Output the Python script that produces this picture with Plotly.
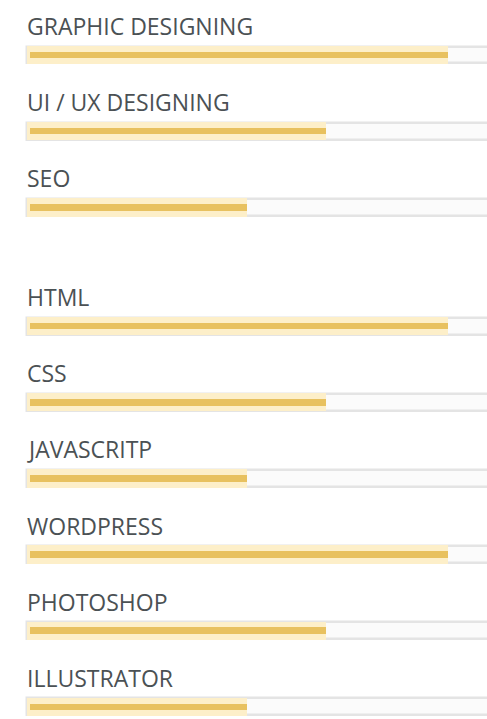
import plotly.graph_objects as go

skills = ["GRAPHIC DESIGNING", "UI / UX DESIGNING", "SEO",
          "HTML", "CSS", "JAVASCRITP",
          "WORDPRESS", "PHOTOSHOP", "ILLUSTRATOR"]
levels = [90, 64, 47, 90, 64, 47, 90, 64, 47]
groups = [0, 0, 0, 1, 1, 1, 1, 1, 1]
track_max = [100] * len(skills)

GROUP_GAP = 0.56
pos = [i + g * GROUP_GAP for i, g in enumerate(groups)]

fig = go.Figure()
# background track
fig.add_trace(go.Bar(
    x=track_max, y=pos, orientation="h", width=0.22,
    marker=dict(color="#fbfbfb", line=dict(color="#e4e4e4", width=2.5)),
    hoverinfo="skip", showlegend=False))
# pale halo of fill
fig.add_trace(go.Bar(
    x=levels, y=pos, orientation="h", width=0.24,
    marker=dict(color="#fdefc9", line=dict(width=0)),
    hoverinfo="skip", showlegend=False))
# core fill
fig.add_trace(go.Bar(
    x=[v - 0.6 for v in levels], y=pos, base=0.6, orientation="h", width=0.085,
    marker=dict(color="#e8c15f", line=dict(width=0)),
    hovertemplate="%{customdata}: %{x}%<extra></extra>",
    customdata=skills, showlegend=False))

for s, p in zip(skills, pos):
    fig.add_annotation(
        x=0, xref="paper", xanchor="left",
        y=p, yref="y", yanchor="middle", yshift=29,
        text=s, showarrow=False,
        font=dict(family="Open Sans", size=23, color="#4b5154"))

fig.update_layout(
    width=487, height=719,
    margin=dict(l=25, r=0, t=0, b=0),
    paper_bgcolor="white", plot_bgcolor="white",
    barmode="overlay", bargap=0,
    xaxis=dict(range=[-0.43, 98.33], visible=False, fixedrange=True),
    yaxis=dict(range=[8.72, -0.724], visible=False, fixedrange=True),
)

fig.write_html("out.html",
               config={"displayModeBar": False},
               post_script="document.body.style.margin='0';document.body.style.overflow='hidden';")
